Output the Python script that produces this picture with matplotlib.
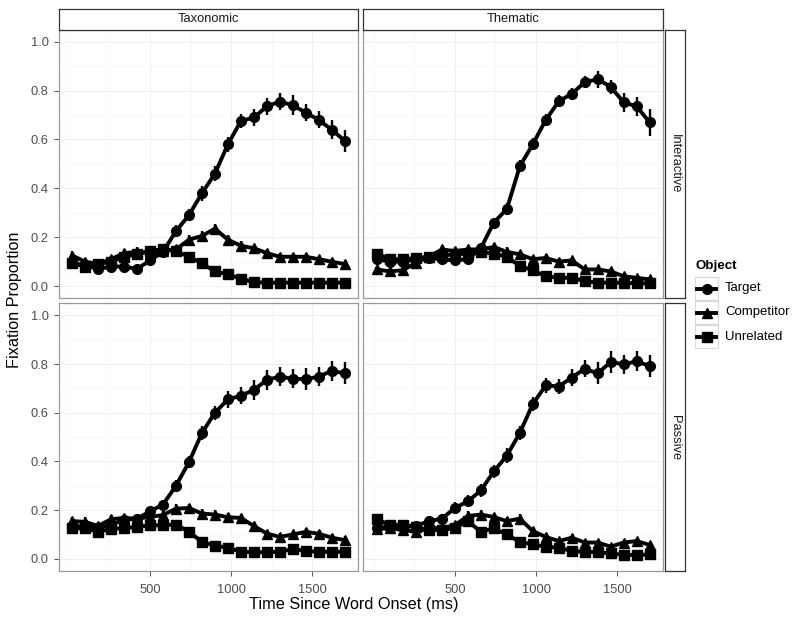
import matplotlib
matplotlib.use('Agg')
import matplotlib.pyplot as plt
from matplotlib.patches import Rectangle

plt.rcParams['font.family'] = ['Liberation Sans', 'DejaVu Sans']

# ---------------- data ----------------
time_ms = [20, 100, 180, 260, 340, 420, 500, 580, 660, 740, 820,
           900, 980, 1060, 1140, 1220, 1300, 1380, 1460, 1540, 1620, 1700]

objects = ['Target', 'Competitor', 'Unrelated']
relations = ['Taxonomic', 'Thematic']
conditions = ['Interactive', 'Passive']

# Taxonomic / Interactive
tax_int_target = [0.095, 0.085, 0.07, 0.08, 0.08, 0.07, 0.105, 0.14, 0.225, 0.29, 0.38,
                  0.46, 0.58, 0.675, 0.69, 0.735, 0.755, 0.74, 0.71, 0.68, 0.64, 0.595]
tax_int_target_se = [0.015, 0.015, 0.015, 0.015, 0.015, 0.015, 0.018, 0.02, 0.025, 0.025, 0.03,
                     0.03, 0.03, 0.03, 0.035, 0.035, 0.035, 0.04, 0.035, 0.035, 0.04, 0.045]
tax_int_comp = [0.125, 0.10, 0.09, 0.11, 0.135, 0.14, 0.135, 0.145, 0.15, 0.19, 0.205,
                0.235, 0.19, 0.165, 0.155, 0.135, 0.12, 0.12, 0.12, 0.11, 0.10, 0.09]
tax_int_comp_se = [0.018, 0.015, 0.015, 0.015, 0.018, 0.018, 0.018, 0.018, 0.018, 0.02, 0.02,
                   0.02, 0.018, 0.018, 0.018, 0.015, 0.015, 0.015, 0.015, 0.015, 0.015, 0.015]
tax_int_unrel = [0.093, 0.08, 0.09, 0.10, 0.12, 0.13, 0.145, 0.15, 0.143, 0.12, 0.093,
                 0.06, 0.048, 0.03, 0.016, 0.014, 0.014, 0.014, 0.014, 0.014, 0.014, 0.014]
tax_int_unrel_se = [0.012, 0.012, 0.012, 0.012, 0.012, 0.012, 0.012, 0.012, 0.012, 0.012, 0.01,
                    0.01, 0.008, 0.006, 0.005, 0.005, 0.005, 0.005, 0.005, 0.005, 0.005, 0.005]

# Thematic / Interactive
thm_int_target = [0.11, 0.10, 0.10, 0.11, 0.115, 0.11, 0.105, 0.11, 0.155, 0.26, 0.315,
                  0.49, 0.58, 0.68, 0.756, 0.787, 0.834, 0.847, 0.815, 0.752, 0.735, 0.67]
thm_int_target_se = [0.015, 0.015, 0.015, 0.015, 0.015, 0.015, 0.015, 0.015, 0.018, 0.02, 0.025,
                     0.025, 0.025, 0.025, 0.025, 0.025, 0.025, 0.035, 0.03, 0.04, 0.04, 0.055]
thm_int_comp = [0.068, 0.06, 0.065, 0.095, 0.12, 0.15, 0.143, 0.15, 0.15, 0.16, 0.14,
                0.13, 0.11, 0.115, 0.10, 0.105, 0.068, 0.068, 0.06, 0.04, 0.034, 0.027]
thm_int_comp_se = [0.015, 0.015, 0.015, 0.015, 0.018, 0.018, 0.018, 0.018, 0.018, 0.018, 0.018,
                   0.015, 0.015, 0.015, 0.015, 0.015, 0.012, 0.012, 0.012, 0.01, 0.01, 0.01]
thm_int_unrel = [0.133, 0.11, 0.11, 0.115, 0.12, 0.125, 0.13, 0.133, 0.14, 0.133, 0.12,
                 0.082, 0.065, 0.04, 0.034, 0.034, 0.02, 0.014, 0.014, 0.014, 0.011, 0.011]
thm_int_unrel_se = [0.015, 0.012, 0.012, 0.012, 0.012, 0.012, 0.012, 0.012, 0.012, 0.012, 0.012,
                    0.01, 0.01, 0.008, 0.008, 0.008, 0.006, 0.005, 0.005, 0.005, 0.005, 0.005]

# Taxonomic / Passive
tax_pas_target = [0.135, 0.133, 0.125, 0.14, 0.16, 0.165, 0.195, 0.223, 0.30, 0.397, 0.517,
                  0.60, 0.655, 0.67, 0.694, 0.735, 0.749, 0.74, 0.738, 0.749, 0.772, 0.762]
tax_pas_target_se = [0.015, 0.015, 0.015, 0.015, 0.018, 0.018, 0.02, 0.02, 0.025, 0.025, 0.03,
                     0.03, 0.035, 0.035, 0.04, 0.04, 0.04, 0.04, 0.045, 0.04, 0.04, 0.045]
tax_pas_comp = [0.155, 0.152, 0.135, 0.163, 0.168, 0.165, 0.172, 0.18, 0.206, 0.209, 0.186,
                0.182, 0.171, 0.168, 0.135, 0.104, 0.09, 0.10, 0.111, 0.103, 0.087, 0.077]
tax_pas_comp_se = [0.018, 0.018, 0.015, 0.018, 0.018, 0.018, 0.018, 0.018, 0.018, 0.018, 0.018,
                   0.018, 0.018, 0.018, 0.015, 0.015, 0.015, 0.015, 0.015, 0.015, 0.015, 0.015]
tax_pas_unrel = [0.125, 0.125, 0.111, 0.122, 0.127, 0.131, 0.138, 0.138, 0.141, 0.111, 0.07,
                 0.054, 0.046, 0.029, 0.027, 0.027, 0.029, 0.04, 0.032, 0.029, 0.029, 0.029]
tax_pas_unrel_se = [0.012, 0.012, 0.012, 0.012, 0.012, 0.012, 0.012, 0.012, 0.012, 0.012, 0.01,
                    0.008, 0.008, 0.006, 0.006, 0.006, 0.006, 0.008, 0.006, 0.006, 0.006, 0.006]

# Thematic / Passive
thm_pas_target = [0.125, 0.135, 0.131, 0.135, 0.155, 0.165, 0.209, 0.236, 0.281, 0.359, 0.424,
                  0.517, 0.636, 0.713, 0.708, 0.745, 0.781, 0.762, 0.809, 0.799, 0.812, 0.792]
thm_pas_target_se = [0.015, 0.018, 0.018, 0.018, 0.02, 0.02, 0.025, 0.025, 0.025, 0.025, 0.03,
                     0.03, 0.03, 0.03, 0.03, 0.035, 0.035, 0.045, 0.045, 0.04, 0.04, 0.045]
thm_pas_comp = [0.122, 0.127, 0.118, 0.111, 0.125, 0.127, 0.138, 0.176, 0.182, 0.172, 0.155,
                0.165, 0.114, 0.09, 0.073, 0.087, 0.067, 0.067, 0.05, 0.067, 0.073, 0.057]
thm_pas_comp_se = [0.018, 0.02, 0.018, 0.018, 0.018, 0.018, 0.018, 0.02, 0.018, 0.018, 0.018,
                   0.018, 0.015, 0.015, 0.012, 0.012, 0.012, 0.012, 0.012, 0.012, 0.012, 0.012]
thm_pas_unrel = [0.163, 0.138, 0.141, 0.131, 0.118, 0.118, 0.127, 0.155, 0.111, 0.125, 0.10,
                 0.07, 0.059, 0.05, 0.046, 0.032, 0.029, 0.027, 0.022, 0.016, 0.016, 0.018]
thm_pas_unrel_se = [0.015, 0.012, 0.012, 0.012, 0.012, 0.012, 0.012, 0.012, 0.012, 0.012, 0.01,
                    0.01, 0.008, 0.008, 0.008, 0.006, 0.006, 0.006, 0.006, 0.006, 0.006, 0.006]

x_breaks = [500, 1000, 1500]
x_minor = [0, 250, 750, 1250, 1750]
y_breaks = [0.0, 0.2, 0.4, 0.6, 0.8, 1.0]
y_labels = ['0.0', '0.2', '0.4', '0.6', '0.8', '1.0']
y_minor = [0.1, 0.3, 0.5, 0.7, 0.9]

panel_data = {
    ('Interactive', 'Taxonomic'): [(tax_int_target, tax_int_target_se), (tax_int_comp, tax_int_comp_se), (tax_int_unrel, tax_int_unrel_se)],
    ('Interactive', 'Thematic'): [(thm_int_target, thm_int_target_se), (thm_int_comp, thm_int_comp_se), (thm_int_unrel, thm_int_unrel_se)],
    ('Passive', 'Taxonomic'): [(tax_pas_target, tax_pas_target_se), (tax_pas_comp, tax_pas_comp_se), (tax_pas_unrel, tax_pas_unrel_se)],
    ('Passive', 'Thematic'): [(thm_pas_target, thm_pas_target_se), (thm_pas_comp, thm_pas_comp_se), (thm_pas_unrel, thm_pas_unrel_se)],
}

markers = {'Target': 'o', 'Competitor': '^', 'Unrelated': 's'}
msizes = {'Target': 7.0, 'Competitor': 7.5, 'Unrelated': 6.5}

# ---------------- layout ----------------
W, H = 799, 622
fig = plt.figure(figsize=(W / 100, H / 100), dpi=100)


def px_axes(x0, y0, x1, y1):
    return fig.add_axes([x0 / W, 1 - y1 / H, (x1 - x0) / W, (y1 - y0) / H])


col_x = [(58.5, 358.3), (363.3, 663.3)]
row_y = [(29.5, 298.3), (303.3, 571.0)]

tmin, tmax = min(time_ms), max(time_ms)
pad = 0.05 * (tmax - tmin)

for ri, cond in enumerate(conditions):
    for ci, rel in enumerate(relations):
        x0, x1 = col_x[ci]
        y0, y1 = row_y[ri]
        ax = px_axes(x0, y0, x1, y1)
        ax.set_xlim(tmin - pad, tmax + pad)
        ax.set_ylim(-0.05, 1.05)
        ax.set_xticks(x_breaks)
        ax.set_xticks(x_minor, minor=True)
        ax.set_yticks(y_breaks)
        ax.set_yticks(y_minor, minor=True)
        ax.set_yticklabels(y_labels)
        ax.grid(which='major', color='#f0f0f0', lw=0.8)
        ax.grid(which='minor', color='#f8f8f8', lw=0.7)
        ax.set_axisbelow(True)
        for s in ax.spines.values():
            s.set_color('#9a9a9a')
            s.set_linewidth(0.9)
        ax.tick_params(which='minor', length=0)
        ax.tick_params(which='major', length=3.5, width=0.7, color='#555555',
                       labelsize=9.3, labelcolor='#4d4d4d')
        ax.tick_params(axis='x', pad=6)
        ax.tick_params(axis='y', pad=3.5)
        if ci != 0:
            ax.tick_params(axis='y', labelleft=False, length=0)
        if ri != 1:
            ax.tick_params(axis='x', labelbottom=False, length=0)

        for (vals, se), obj in zip(panel_data[(cond, rel)], objects):
            ax.plot(time_ms, vals, color='black', lw=2.8, zorder=3)
            ax.errorbar(time_ms, vals, yerr=se, fmt='none', ecolor='black',
                        elinewidth=1.7, capsize=0, zorder=4)
            ax.plot(time_ms, vals, ls='none', marker=markers[obj], ms=msizes[obj],
                    color='black', zorder=5)

        # top strips
        if ri == 0:
            sax = px_axes(x0, 8.5, x1, 29.5)
            sax.set_xticks([]); sax.set_yticks([])
            for s in sax.spines.values():
                s.set_color('#333333'); s.set_linewidth(0.9)
            sax.text(0.5, 0.5, rel, ha='center', va='center', fontsize=9.3,
                     color='#1a1a1a', transform=sax.transAxes)
    # right strips
    y0, y1 = row_y[ri]
    rax = px_axes(664.5, y0, 685, y1)
    rax.set_xticks([]); rax.set_yticks([])
    for s in rax.spines.values():
        s.set_color('#333333'); s.set_linewidth(0.9)
    rax.text(0.5, 0.5, cond, ha='center', va='center', fontsize=9.3, rotation=-90,
             color='#1a1a1a', transform=rax.transAxes)

# axis titles
fig.text(354 / W, 1 - 604 / H, 'Time Since Word Onset (ms)', ha='center', va='center',
         fontsize=11.7, color='black')
fig.text(15 / W, 1 - 300 / H, 'Fixation Proportion', ha='center', va='center',
         rotation=90, fontsize=11.7, color='black')

# legend (manual, ggplot style)
lax = fig.add_axes([0, 0, 1, 1])
lax.set_xlim(0, W)
lax.set_ylim(H, 0)
lax.axis('off')
lax.text(695, 266, 'Object', ha='left', va='center', fontsize=9.6, fontweight='bold')
for i, obj in enumerate(objects):
    ky = 277 + 24 * i
    lax.add_patch(Rectangle((695, ky), 23, 23, facecolor='white', edgecolor='#d9d9d9', lw=0.8))
    cy = ky + 11.5
    lax.plot([697, 716], [cy, cy], color='black', lw=2.8)
    lax.plot([706.5], [cy], marker=markers[obj], ms=msizes[obj], color='black', ls='none')
    lax.text(725, cy, obj, ha='left', va='center', fontsize=9.5, color='black')

fig.savefig('out.png', dpi=100)
